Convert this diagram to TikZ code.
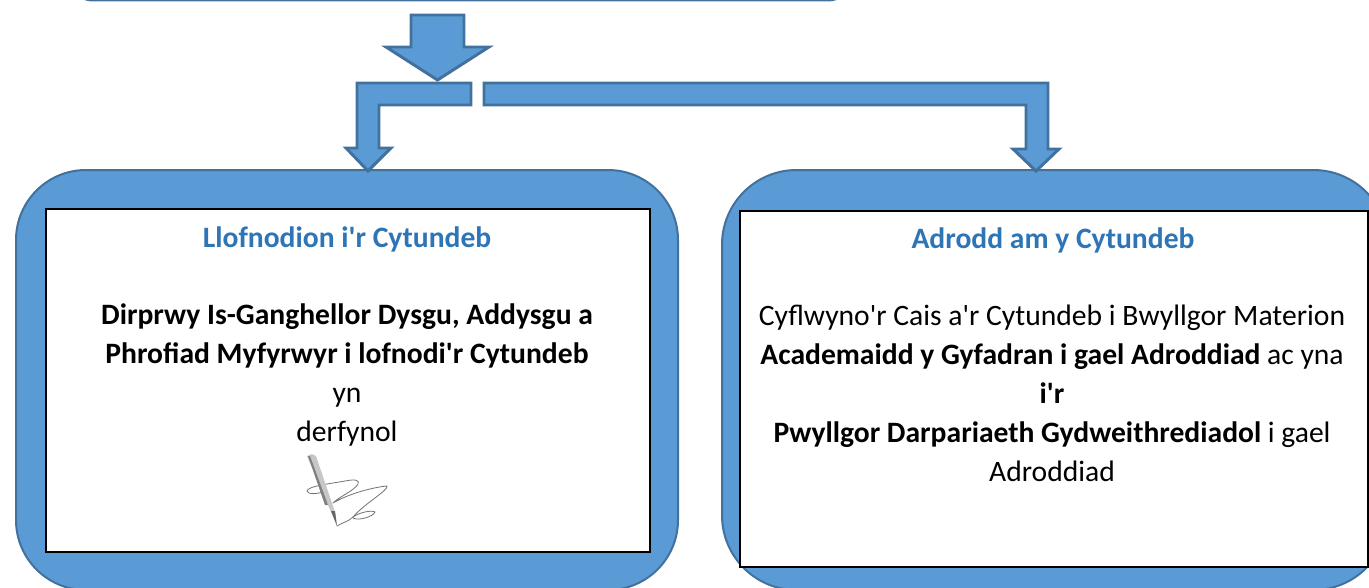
\documentclass[tikz,border=0pt]{standalone}
\usepackage{fontspec}
\setmainfont{Carlito}[Ligatures=TeXOff]
\definecolor{blockfill}{HTML}{5B9BD5}
\definecolor{blockline}{HTML}{41719C}
\definecolor{titleblue}{HTML}{2E75B6}
\tikzset{
  block/.style={fill=blockfill,draw=blockline,line width=2.2pt,line join=miter},
  roundblock/.style={fill=blockfill,draw=blockline,line width=1.5pt},
  panel/.style={fill=white,draw=black,line width=1.5pt,inner sep=0pt,anchor=north west},
  titletext/.style={text=titleblue,font=\fontsize{22.2}{26}\selectfont\bfseries},
  bodytext/.style={text=black,font=\fontsize{22.2}{29.25}\selectfont,align=center},
  penline/.style={draw=black!55,line width=0.6pt,line cap=round,line join=round}
}
\begin{document}
\begin{tikzpicture}[x=0.75pt,y=-0.75pt]
\useasboundingbox (0,0) rectangle (1369,588);
\begin{scope}
\clip (0,0) rectangle (1369,588);
% top bar
\draw[roundblock,rounded corners=24] (62,-60) rectangle (859,0.5);
% rounded panels
\draw[roundblock,rounded corners=52.5] (16,170) rectangle (678,590);
\draw[roundblock,rounded corners=56] (722,170) rectangle (1388,590);
\end{scope}
% arrows
\draw[block] (411,15) -- (464,15) -- (464,47) -- (489,47) -- (437.5,80) -- (386,47) -- (411,47) -- cycle;
\draw[block] (471,83) -- (471,105) -- (379,105) -- (379,148) -- (391,148) -- (368,171) -- (346,148) -- (357,148) -- (357,83) -- cycle;
\draw[block] (484,83) -- (1048,83) -- (1048,149) -- (1059,149) -- (1036,171) -- (1013,149) -- (1026,149) -- (1026,105) -- (484,105) -- cycle;
% white panels
\node[panel,minimum width=453pt,minimum height=257.25pt] (leftpanel) at (45,208) {};
\node[panel,minimum width=471.5pt,minimum height=267pt] (rightpanel) at (738.5,210) {};
% text
\node[titletext] (lefttitle) at (347,239) {Llofnodion i'r Cytundeb};
\node[titletext] (righttitle) at (1053,240) {Adrodd am y Cytundeb};
\node[bodytext] (leftbody) at (347,375) {\textbf{Dirprwy Is-Ganghellor Dysgu, Addysgu a}\\\textbf{Phrofiad Myfyrwyr i lofnodi'r Cytundeb}\\yn\\derfynol};
\node[bodytext] (rightbody) at (1052,393.5) {Cyflwyno'r Cais a'r Cytundeb i Bwyllgor Materion\\\textbf{Academaidd y Gyfadran i gael Adroddiad} ac yna\\\textbf{i'r}\\\textbf{Pwyllgor Darpariaeth Gydweithrediadol} i gael\\Adroddiad};
% signature
\draw[penline] (326,491) .. controls (318,494) and (308,495) .. (307,491) .. controls (307,486) and (335,483) .. (345,481) .. controls (355,479) and (360,480) .. (358,484) .. controls (354,491) and (340,496) .. (333,503) .. controls (350,493) and (375,487) .. (387,486) .. controls (389,490) and (365,503) .. (353,517) .. controls (348,522) and (343,522) .. (337,526);
\draw[penline] (353,517) .. controls (360,512) and (372,510) .. (375,512) .. controls (373,517) and (358,521) .. (353,518);
\fill[black!22] (307,456) -- (312,454) -- (316,456) -- (335,512) -- (337,526) -- (331,512) -- cycle;
\fill[black!50] (308,456) -- (310,456) -- (328,505) -- (325,505) -- cycle;
\fill[black!60] (331,511) -- (335,511) -- (337,526) -- cycle;
\end{tikzpicture}
\end{document}
